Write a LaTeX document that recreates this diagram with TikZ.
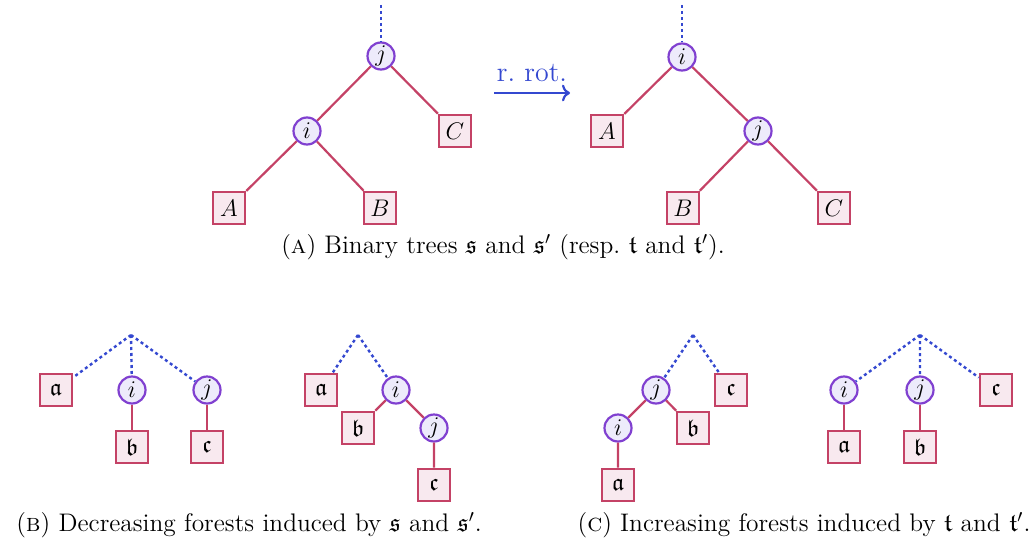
\documentclass[tikz,border=0pt]{standalone}
\usepackage{amsmath,amssymb}
\usepackage{xcolor}
\usetikzlibrary{arrows.meta}

\definecolor{edgecol}{RGB}{196,66,102}
\definecolor{leaffill}{RGB}{248,233,239}
\definecolor{nodecol}{RGB}{128,64,208}
\definecolor{nodefill}{RGB}{237,235,251}
\definecolor{dotcol}{RGB}{52,72,208}

\begin{document}
\begin{tikzpicture}[x=0.5pt,y=-0.5pt,>=To,
  leafbox/.style={draw=edgecol,fill=leaffill,line width=1.3pt,minimum size=16pt,inner sep=0pt,font=\fontsize{12}{14}\selectfont},
  vertex/.style={circle,draw=nodecol,fill=nodefill,line width=1.1pt,minimum size=13.5pt,inner sep=0pt,font=\fontsize{12}{14}\selectfont},
  treeedge/.style={edgecol,line width=1.1pt},
  rootline/.style={dotcol,line width=1.2pt,dash pattern=on 1.5pt off 1.5pt},
  caption/.style={inner sep=0pt,font=\fontsize{12.7}{15}\selectfont}]
  \useasboundingbox (0,0) rectangle (1031,540);

  % binary tree before the rotation
  \coordinate (r1) at (381,5);
  \node[vertex] (j1) at (381,56) {$j$};
  \node[vertex] (i1) at (307,131) {$i$};
  \node[leafbox] (C1) at (455,131) {$C$};
  \node[leafbox] (A1) at (229,208) {$A$};
  \node[leafbox] (B1) at (380,208) {$B$};
  \draw[rootline] (r1) -- (j1);
  \draw[treeedge] (j1) -- (i1) (j1) -- (C1) (i1) -- (A1) (i1) -- (B1);

  % the rotation
  \coordinate (s) at (494,93);
  \coordinate (t) at (570,93);
  \draw[->,dotcol,line width=1.1pt] (s) -- node[above=1.5pt,font=\fontsize{14}{16}\selectfont] {r.\ rot.} (t);

  % binary tree after the rotation
  \coordinate (r2) at (682,5);
  \node[vertex] (i2) at (682,57) {$i$};
  \node[leafbox] (A2) at (607,131) {$A$};
  \node[vertex] (j2) at (758,131) {$j$};
  \node[leafbox] (B2) at (683,208) {$B$};
  \node[leafbox] (C2) at (834,208) {$C$};
  \draw[rootline] (r2) -- (i2);
  \draw[treeedge] (i2) -- (A2) (i2) -- (j2) (j2) -- (B2) (j2) -- (C2);

  \node[caption] (capA) at (503,247) {(\textsc{a}) Binary trees $\mathfrak{s}$ and $\mathfrak{s}'$ (resp.\ $\mathfrak{t}$ and $\mathfrak{t}'$).};

  % decreasing forests
  \coordinate (p1) at (131,335);
  \node[leafbox] (a3) at (56,390) {$\mathfrak{a}$};
  \node[vertex] (i3) at (132,390) {$i$};
  \node[vertex] (j3) at (207,390) {$j$};
  \node[leafbox] (b3) at (132,447) {$\mathfrak{b}$};
  \node[leafbox] (c3) at (207,447) {$\mathfrak{c}$};
  \draw[rootline] (p1) -- (a3) (p1) -- (i3) (p1) -- (j3);
  \draw[treeedge] (i3) -- (b3) (j3) -- (c3);

  \coordinate (p2) at (358,335);
  \node[leafbox] (a4) at (321,390) {$\mathfrak{a}$};
  \node[vertex] (i4) at (396,390) {$i$};
  \node[leafbox] (b4) at (358,428) {$\mathfrak{b}$};
  \node[vertex] (j4) at (434,428) {$j$};
  \node[leafbox] (c4) at (434,485) {$\mathfrak{c}$};
  \draw[rootline] (p2) -- (a4) (p2) -- (i4);
  \draw[treeedge] (i4) -- (b4) (i4) -- (j4) (j4) -- (c4);

  \node[caption] (capB) at (249,525) {(\textsc{b}) Decreasing forests induced by $\mathfrak{s}$ and $\mathfrak{s}'$.};

  % increasing forests
  \coordinate (p3) at (693,335);
  \node[vertex] (j5) at (656,390) {$j$};
  \node[leafbox] (c5) at (731,390) {$\mathfrak{c}$};
  \node[vertex] (i5) at (618,428) {$i$};
  \node[leafbox] (b5) at (693,428) {$\mathfrak{b}$};
  \node[leafbox] (a5) at (618,485) {$\mathfrak{a}$};
  \draw[rootline] (p3) -- (j5) (p3) -- (c5);
  \draw[treeedge] (j5) -- (i5) (j5) -- (b5) (i5) -- (a5);

  \coordinate (p4) at (920,335);
  \node[vertex] (i6) at (844,390) {$i$};
  \node[vertex] (j6) at (920,390) {$j$};
  \node[leafbox] (c6) at (996,390) {$\mathfrak{c}$};
  \node[leafbox] (a6) at (844,447) {$\mathfrak{a}$};
  \node[leafbox] (b6) at (920,447) {$\mathfrak{b}$};
  \draw[rootline] (p4) -- (i6) (p4) -- (j6) (p4) -- (c6);
  \draw[treeedge] (i6) -- (a6) (j6) -- (b6);

  \node[caption] (capC) at (804,525) {(\textsc{c}) Increasing forests induced by $\mathfrak{t}$ and $\mathfrak{t}'$.};
\end{tikzpicture}
\end{document}
